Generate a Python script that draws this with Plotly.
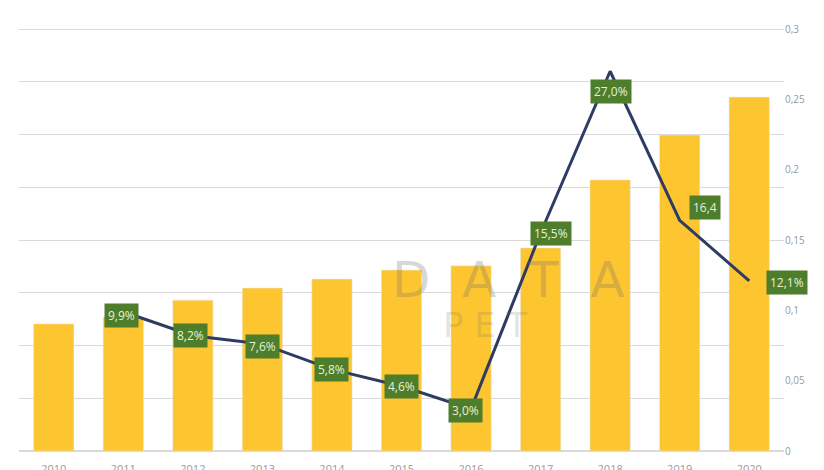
import plotly.graph_objects as go

categories = ["2010", "2011", "2012", "2013", "2014", "2015", "2016", "2017", "2018", "2019", "2020"]
bar_values = [2.41, 2.54, 2.86, 3.09, 3.26, 3.43, 3.51, 3.85, 5.14, 5.99, 6.71]
growth = [None, 0.099, 0.082, 0.076, 0.058, 0.046, 0.030, 0.155, 0.270, 0.164, 0.121]
growth_labels = [None, "9,9%", "8,2%", "7,6%", "5,8%", "4,6%", "3,0%", "15,5%", "27,0%", "16,4", "12,1%"]
label_shift = [None, (-2, -4), (-2, 0), (0, -2), (0, 0), (0, 0), (-6, -2), (10, 0), (1, -20), (25, 13), (38, -2)]
right_tickvals = [0, 0.05, 0.1, 0.15, 0.2, 0.25, 0.3]
right_ticktext = ["0", "0,05", "0,1", "0,15", "0,2", "0,25", "0,3"]

fig = go.Figure()
fig.add_trace(go.Bar(x=categories, y=bar_values, marker_color="#FDC52F",
                     yaxis="y", hoverinfo="skip"))
fig.add_trace(go.Scatter(x=categories, y=growth, mode="lines",
                         line=dict(color="#2E3B63", width=3), yaxis="y2"))

annotations = []
# faint watermark
annotations.append(dict(x=0.64, y=0.405, xref="paper", yref="paper", text="D  A  T  A",
                        showarrow=False, font=dict(family="DejaVu Sans", size=50, color="rgba(110,110,110,0.28)")))
annotations.append(dict(x=0.61, y=0.245, xref="paper", yref="paper", text="P E T",
                        showarrow=False, font=dict(family="DejaVu Sans", size=34, color="rgba(110,110,110,0.20)")))

# data labels: category axis positions are the categories' serial numbers
for i, (v, t, s) in enumerate(zip(growth, growth_labels, label_shift)):
    if v is None:
        continue
    annotations.append(dict(x=i, y=v, xref="x", yref="y2", text=t, showarrow=False,
                            xshift=s[0], yshift=s[1], bgcolor="#4E7D2C",
                            borderpad=3, font=dict(family="Open Sans", size=12, color="#E4F2D6")))

fig.update_layout(
    width=824, height=470,
    margin=dict(l=19, r=40, t=28, b=19, autoexpand=False),
    paper_bgcolor="white", plot_bgcolor="white",
    showlegend=False, bargap=0.42,
    xaxis=dict(type="category", categoryorder="array", categoryarray=categories,
               range=[-0.5, len(categories) - 0.5], showgrid=False, showline=False, ticks="",
               tickfont=dict(size=11, color="#999999"), ticklabelstandoff=10, automargin=False),
    yaxis=dict(range=[0, 8.02], dtick=1, showgrid=True, gridcolor="#D9D9D9", gridwidth=1,
               showticklabels=False, zeroline=True, zerolinecolor="#D9D9D9", automargin=False),
    yaxis2=dict(range=[0, 0.3 * 8.02 / 8], overlaying="y", side="right", showgrid=False,
                tickvals=right_tickvals, ticktext=right_ticktext, automargin=False,
                tickfont=dict(family="Open Sans", size=10, color="#999999"), zeroline=False),
    annotations=annotations,
)
fig.write_html("out.html")
